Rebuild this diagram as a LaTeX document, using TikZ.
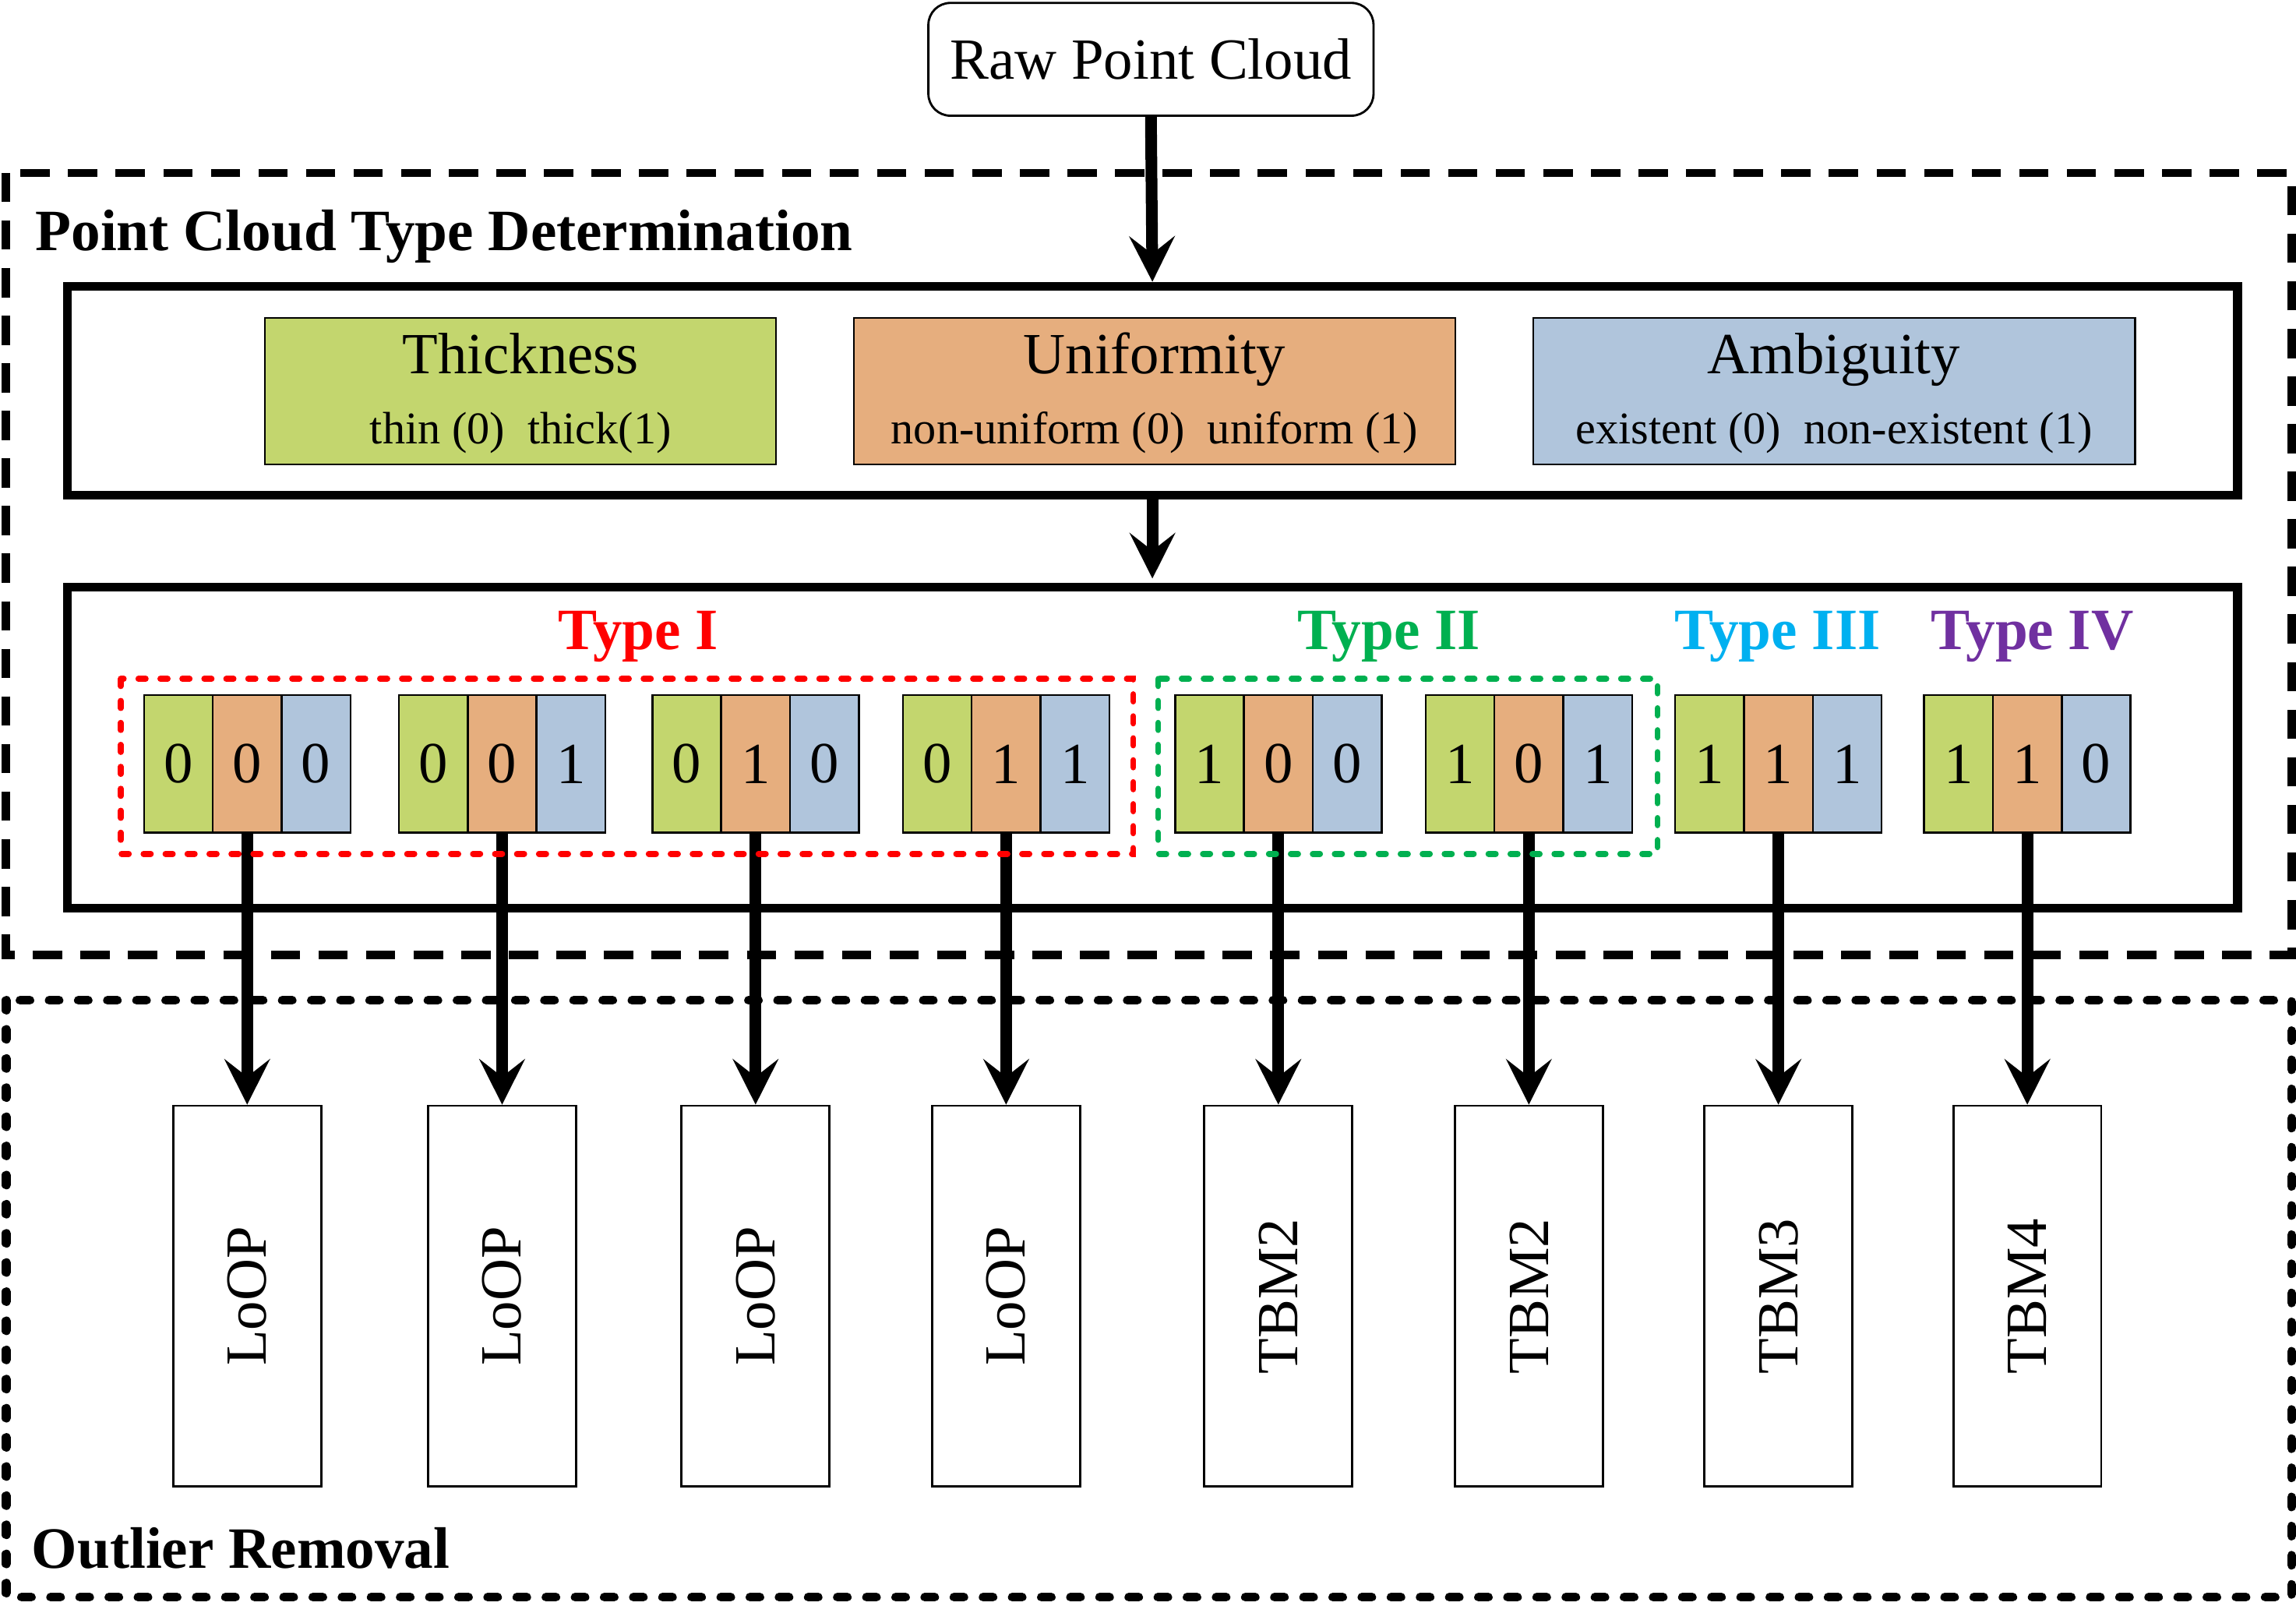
\documentclass[tikz,border=0pt]{standalone}
\usepackage{fontspec}
\setmainfont{Liberation Serif}
\usetikzlibrary{arrows.meta}
\definecolor{cg}{HTML}{C3D66E}
\definecolor{co}{HTML}{E6AE7E}
\definecolor{cb}{HTML}{B0C5DC}
\definecolor{tred}{HTML}{FF0000}
\definecolor{tgreen}{HTML}{00B050}
\definecolor{tcyan}{HTML}{00B0F0}
\definecolor{tpurple}{HTML}{7030A0}
\begin{document}
\begin{tikzpicture}[x=1pt,y=-1pt,
  big/.style={font=\fontsize{39.8}{44}\selectfont},
  small/.style={font=\fontsize{31}{36}\selectfont},
  bigb/.style={font=\fontsize{40}{44}\selectfont\bfseries},
  arr/.style={line width=8pt,-{Stealth[length=31pt,width=31pt,inset=12pt]}},
  thickbox/.style={draw,line width=6pt,inner sep=0pt},
  attr/.style={draw,line width=1.3pt,inner sep=0pt,minimum width=#1,minimum height=100pt},
  cell/.style={draw,line width=1.3pt,inner sep=0pt,minimum width=47pt,minimum height=94pt,big},
  outbox/.style={draw,line width=1.5pt,inner sep=0pt,minimum width=260pt,minimum height=101pt,big,rotate=90},
  typelab/.style={bigb,anchor=base,inner sep=0pt},
  redgroup/.style={draw=tred,line width=4pt,line cap=round,dash pattern=on 5pt off 10pt},
  greengroup/.style={draw=tgreen,line width=4pt,line cap=round,dash pattern=on 5pt off 10pt},
]
\useasboundingbox[fill=white] (0,0) rectangle (1568,1101);

% outer groups
\draw[line width=5.5pt,dash pattern=on 20pt off 12.5pt] (4,118) rectangle (1565,652);
\draw[line width=6pt,line cap=round,dash pattern=on 6.7pt off 13.2pt] (4.3,683) rectangle (1565,1090.5);
\node[bigb,anchor=base west,inner sep=0pt] (pctd) at (24,171) {Point Cloud Type Determination};
\node[bigb,anchor=base west,inner sep=0pt] (outl) at (21.5,1071) {Outlier Removal};

% raw point cloud
\node[draw,line width=1.5pt,rounded corners=15pt,minimum width=304pt,minimum height=77pt,inner sep=0pt,big] (raw) at (786,40.5) {Raw Point Cloud};

% attribute box
\node[thickbox,minimum width=1482pt,minimum height=142.6pt] (box1) at (787,266.7) {};
\node[attr=349pt,fill=cg] (thk) at (355.5,267) {};
\node[attr=411pt,fill=co] (uni) at (788.5,267) {};
\node[attr=411pt,fill=cb] (amb) at (1252.5,267) {};
\node[big,anchor=base,inner sep=0pt] (thkt) at (355.5,255) {Thickness};
\node[small,anchor=base,inner sep=0pt] (thks) at (355.5,303) {thin (0)\hspace{0.5em}thick(1)};
\node[big,anchor=base,inner sep=0pt] (unit) at (788.5,255) {Uniformity};
\node[small,anchor=base,inner sep=0pt] (unis) at (788.5,303) {non-uniform (0)\hspace{0.5em}uniform (1)};
\node[big,anchor=base,inner sep=0pt] (ambt) at (1252.5,255) {Ambiguity};
\node[small,anchor=base,inner sep=0pt] (ambs) at (1252.5,303) {existent (0)\hspace{0.5em}non-existent (1)};

% types box
\node[thickbox,minimum width=1482pt,minimum height=219pt] (box2) at (787,510.5) {};
\node[typelab,text=tred] (t1) at (436,443.5) {Type I};
\node[typelab,text=tgreen] (t2) at (948.5,443.5) {Type II};
\node[typelab,text=tcyan] (t3) at (1214,443.5) {Type III};
\node[typelab,text=tpurple] (t4) at (1388,443.5) {Type IV};

\draw[arr] (raw.south) -- (box1.north);
\draw[arr,shorten >=3pt] (box1.south) -- (box2.north);

% codes and outlier removal methods
\foreach \i/\xl/\a/\b/\c/\lab in {1/98.3/0/0/0/LoOP, 2/272.4/0/0/1/LoOP, 3/445.5/0/1/0/LoOP, 4/616.6/0/1/1/LoOP, 5/802.5/1/0/0/TBM2, 6/973.6/1/0/1/TBM2, 7/1144/1/1/1/TBM3, 8/1314/1/1/0/TBM4}{
  \node[cell,fill=cg] (k\i-a) at (\xl+23.5,521.6) {\a};
  \node[cell,fill=co] (k\i-b) at (\xl+70.5,521.6) {\b};
  \node[cell,fill=cb] (k\i-c) at (\xl+117.5,521.6) {\c};
  \node[outbox] (o\i) at (\xl+70.5,885) {\lab};
  \draw[arr] (k\i-b.south) -- (o\i.east);
}

% type groupings
\draw[redgroup] (82.5,463.5) rectangle (774,583);
\draw[greengroup] (791,463.5) rectangle (1132,583);
\end{tikzpicture}
\end{document}
